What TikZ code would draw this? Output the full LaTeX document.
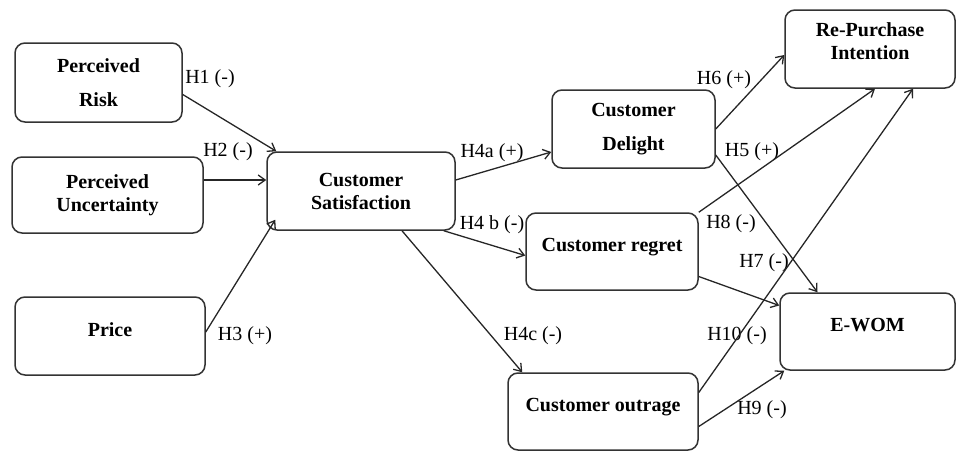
\documentclass[tikz,border=0pt]{standalone}
\usepackage{fontspec}
\setmainfont{Liberation Serif}
\usetikzlibrary{arrows.meta}
\tikzset{
construct/.style = { rectangle, draw = black!80, fill = white, line width = 1.5pt, rounded corners = 10pt, align = center, inner sep = 2pt, font = \fontsize{20}{23}\selectfont\bfseries },
one line/.style = { text height = 12pt, text depth = 12pt },
link/.style = { draw = black!85, line width = 1.3pt, -{Straight Barb[length = 7pt, width = 10pt]} },
hyp/.style = { inner sep = 0pt, font = \fontsize{20}{23}\selectfont },
}

\begin{document}
\begin{tikzpicture}[x = 1pt, y = -1pt]
    \useasboundingbox (0, 0) rectangle (964, 453);
    \node[construct, minimum width = 167pt, minimum height = 79pt] (risk) at (98.5, 82.5) {Perceived\\[11pt]Risk};
    \node[construct, minimum width = 191pt, minimum height = 76pt] (unc) at (107.5, 195) {Perceived\\Uncertainty};
    \node[construct, one line, minimum width = 190pt, minimum height = 78pt] (price) at (110, 336) {Price};
    \node[construct, minimum width = 188pt, minimum height = 78pt] (cs) at (361, 191) {Customer\\Satisfaction};
    \node[construct, minimum width = 163pt, minimum height = 78pt] (delight) at (633.5, 129) {Customer\\[11pt]Delight};
    \node[construct, one line, minimum width = 172pt, minimum height = 77pt] (regret) at (612, 251.5) {Customer regret};
    \node[construct, one line, minimum width = 190pt, minimum height = 77pt] (outrage) at (603, 411.5) {Customer outrage};
    \node[construct, minimum width = 170pt, minimum height = 78pt] (rpi) at (870, 49) {Re-Purchase\\Intention\\[-8pt]};
    \node[construct, one line, minimum width = 175pt, minimum height = 77pt] (ewom) at (867.5, 331.5) {E-WOM};
    \node[hyp] (h1) at (210, 79) {H1 (-)};
    \node[hyp] (h2) at (228, 152) {H2 (-)};
    \node[hyp] (h3) at (245, 336) {H3 (+)};
    \node[hyp] (h4a) at (492, 153) {H4a (+)};
    \node[hyp] (h4b) at (492, 225) {H4 b (-)};
    \node[hyp] (h4c) at (533, 336) {H4c (-)};
    \node[hyp] (h6) at (724, 80) {H6 (+)};
    \node[hyp] (h5) at (752, 152) {H5 (+)};
    \node[hyp] (h8) at (731, 224) {H8 (-)};
    \node[hyp] (h7) at (764, 263) {H7 (-)};
    \node[hyp] (h10) at (737, 336) {H10 (-)};
    \node[hyp] (h9) at (762, 410) {H9 (-)};
    \path[link] ([yshift = -12pt]risk.east) -- ([xshift = 10pt]cs.north west);
    \path[link] ([yshift = 15pt]unc.east) -- ([yshift = 15pt]unc.east -| cs.west);
    \path[link] ([yshift = 4pt]price.east) -- ([xshift = 9pt, yshift = 11pt]cs.south west);
    \path[link] ([yshift = 11pt]cs.east) -- ([yshift = -23pt]delight.west);
    \path[link] ([xshift = -12pt]cs.south east) -- ([yshift = -4pt]regret.west);
    \path[link] ([xshift = 41pt]cs.south) -- ([xshift = 15pt]outrage.north west);
    \path[link] (delight.east) -- ([yshift = -6pt]rpi.west);
    \path[link] ([yshift = -26pt]delight.east) -- ([xshift = -50pt]ewom.north);
    \path[link] (regret.north east) -- ([xshift = 5pt]rpi.south);
    \path[link] ([yshift = 19pt]outrage.east) -- ([xshift = 43pt]rpi.south);
    \path[link] ([yshift = -25pt]regret.east) -- ([yshift = 26pt]ewom.west);
    \path[link] ([yshift = -15pt]outrage.east) -- ([xshift = 5pt]ewom.south west);
\end{tikzpicture}
\end{document}
